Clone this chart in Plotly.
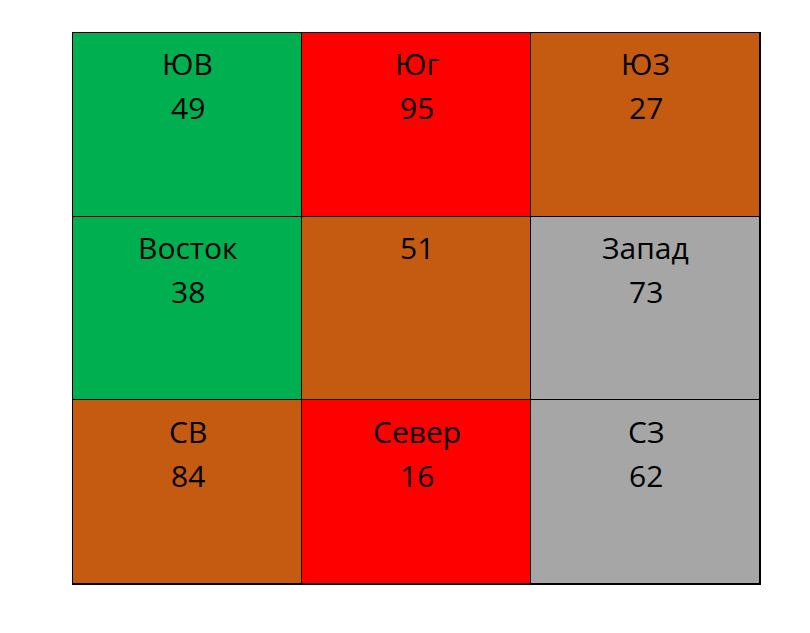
import plotly.graph_objects as go

# grid data, row by row from top
names = [["ЮВ", "Юг", "ЮЗ"],
         ["Восток", "", "Запад"],
         ["СВ", "Север", "СЗ"]]
values = [[49, 95, 27],
          [38, 51, 73],
          [84, 16, 62]]
groups = [[0, 1, 2],
          [0, 2, 3],
          [2, 1, 3]]
palette = ["#00B050", "#FF0000", "#C55A11", "#A6A6A6"]

n = len(palette)
colorscale = []
for i, c in enumerate(palette):
    colorscale.append([i / n, c])
    colorscale.append([(i + 1) / n, c])

fig = go.Figure(go.Heatmap(
    z=groups, x=[0, 1, 2], y=[0, 1, 2],
    zmin=-0.5, zmax=n - 0.5, colorscale=colorscale, showscale=False,
    xgap=1, ygap=1, hoverinfo="skip",
))

font = dict(family="Open Sans, Liberation Sans", size=30, color="black")
for r in range(3):
    for c in range(3):
        if names[r][c]:
            fig.add_annotation(x=c, y=r, text=names[r][c], showarrow=False,
                               font=font, yshift=61)
            fig.add_annotation(x=c, y=r, text=str(values[r][c]), showarrow=False,
                               font=font, yshift=17)
        else:
            fig.add_annotation(x=c, y=r, text=str(values[r][c]), showarrow=False,
                               font=font, yshift=61)

fig.update_xaxes(range=[-0.5, 2.5], showticklabels=False, showgrid=False, zeroline=False,
                 showline=True, linecolor="black", linewidth=1, mirror=True)
fig.update_yaxes(range=[2.5, -0.5], showticklabels=False, showgrid=False, zeroline=False,
                 showline=True, linecolor="black", linewidth=1, mirror=True)
fig.update_layout(width=810, height=633, margin=dict(l=65, r=58, t=25, b=57),
                  plot_bgcolor="black", paper_bgcolor="white")

fig.write_html("out.html")
